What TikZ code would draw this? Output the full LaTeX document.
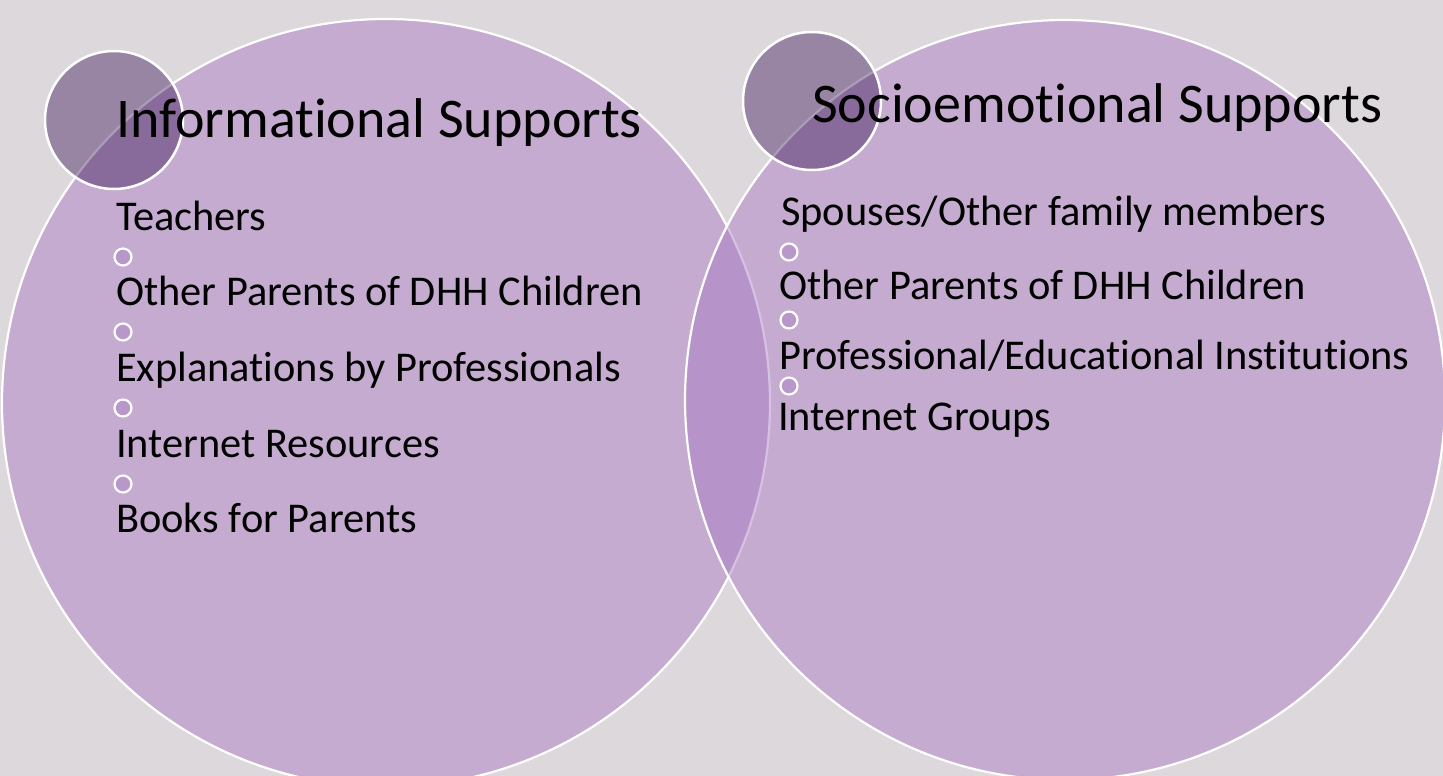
\documentclass[tikz,border=0pt]{standalone}
\usepackage{fontspec}
\setmainfont{Carlito}[Ligatures=NoCommon]
\definecolor{pagebg}{RGB}{220,216,220}
\definecolor{bigfill}{RGB}{167,118,193}
\definecolor{dotfill}{RGB}{57,20,85}
\definecolor{bulletfill}{RGB}{184,152,202}
\tikzset{
  bigcircle/.style={circle, inner sep=0pt, minimum size=#1, fill=bigfill, fill opacity=0.45, draw=white, line width=2.2pt},
  headdot/.style={circle, inner sep=0pt, minimum size=138pt, fill=dotfill, fill opacity=0.42, draw=white, line width=2.5pt},
  heading/.style={anchor=base west, inner sep=0pt, font=\fontsize{56}{60}\selectfont},
  item/.style={anchor=base west, inner sep=0pt, font=\fontsize{42.4}{46}\selectfont},
  bullet/.style={circle, inner sep=0pt, minimum size=17pt, fill=bulletfill, draw=white, line width=2.2pt}
}
\begin{document}
\begin{tikzpicture}[x=1pt,y=-1pt]
\useasboundingbox (0,0) rectangle (1443,776);
\fill[pagebg] (0,0) rectangle (1443,776);
\begin{scope}
\clip (0,0) rectangle (1443,776);
% two overlapping support circles
\node[bigcircle=768pt] (infoC) at (386,403) {};
\node[bigcircle=760pt] (socC) at (1065,400) {};
% small accent circles on the upper left of each
\node[headdot] (infoD) at (114,120) {};
\node[headdot] (socD) at (812,101) {};
\end{scope}

% informational supports
\node[heading] (infoT) at (116,137) {Informational Supports};
\node[item] (i1) at (116,230) {Teachers};
\node[bullet] (ib1) at (123,257) {};
\node[item] (i2) at (116,305) {Other Parents of DHH Children};
\node[bullet] (ib2) at (123,332) {};
\node[item] (i3) at (116,381) {Explanations by Professionals};
\node[bullet] (ib3) at (123,408) {};
\node[item] (i4) at (116,457) {Internet Resources};
\node[bullet] (ib4) at (123,484) {};
\node[item] (i5) at (116,532) {Books for Parents};

% socioemotional supports
\node[heading] (socT) at (812,122) {Socioemotional Supports};
\node[item] (s1) at (781,225) {Spouses/Other family members};
\node[bullet] (sb1) at (789,252) {};
\node[item] (s2) at (779,299) {Other Parents of DHH Children};
\node[bullet] (sb2) at (789,320) {};
\node[item] (s3) at (779,369) {Professional/Educational Institutions};
\node[bullet] (sb3) at (789,386) {};
\node[item] (s4) at (778,430) {Internet Groups};
\end{tikzpicture}
\end{document}
